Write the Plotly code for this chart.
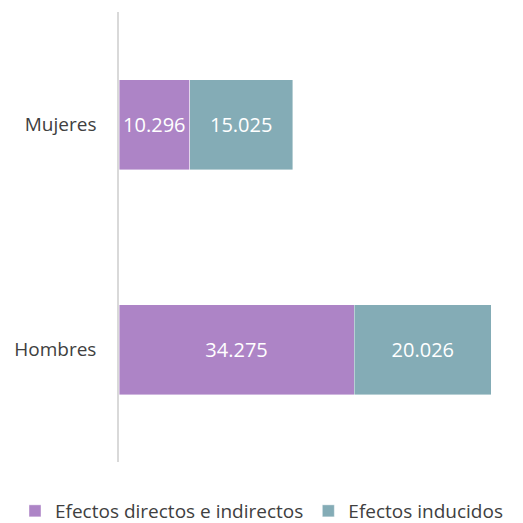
import plotly.graph_objects as go

categories = ["Hombres", "Mujeres"]
directos = [34275, 10296]
inducidos = [20026, 15025]
series_names = ["Efectos directos e indirectos", "Efectos inducidos"]
colors = ["#AD84C6", "#84ACB6"]

W = H = 515  # page body has an 8px margin

fig = go.Figure()
for name, vals, col in zip(series_names, [directos, inducidos], colors):
    fig.add_trace(go.Bar(
        y=categories, x=vals, name=name, orientation="h",
        marker=dict(color=col, line=dict(color="rgba(255,255,255,0.6)", width=0.7)),
        texttemplate="%{x:,.0f}", textposition="inside", insidetextanchor="middle",
        textfont=dict(color="white", size=20, family="Open Sans"),
        width=0.4,
    ))

fig.update_layout(
    barmode="stack",
    separators=",.",
    width=W, height=H,
    margin=dict(l=0, r=0, t=4, b=61, autoexpand=False),
    plot_bgcolor="white", paper_bgcolor="white",
    font=dict(family="Open Sans", color="#404040", size=19),
    showlegend=True,
    legend=dict(orientation="h", x=7 / W, xanchor="left",
                y=-49 / 450, yanchor="middle",
                font=dict(size=19, color="#404040"), itemwidth=30,
                traceorder="normal"),
    xaxis=dict(domain=[111 / W, 502 / W], range=[0, 57000], visible=False,
               showgrid=False, zeroline=False),
    yaxis=dict(range=[-0.5, 1.5], showline=True, linecolor="#D9D9D9", linewidth=1.5,
               ticks="", ticklabelstandoff=17, showgrid=False, zeroline=False,
               automargin=False, tickfont=dict(size=19, color="#404040")),
)
fig.write_html("out.html")
